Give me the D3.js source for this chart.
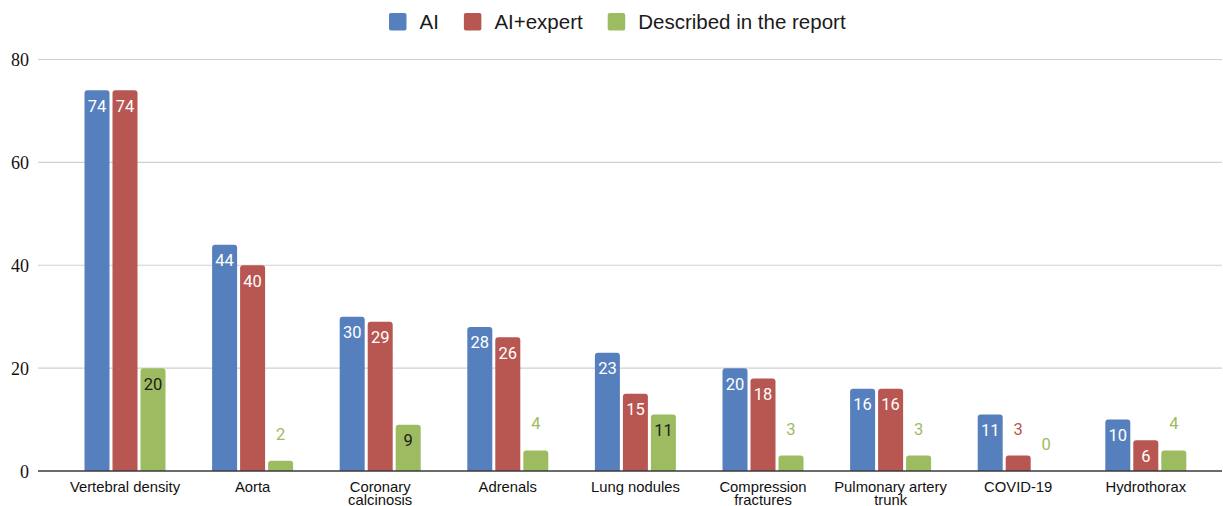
<!DOCTYPE html>
<html>
<head>
<meta charset="utf-8">
<script src="https://cdn.jsdelivr.net/npm/d3@7"></script>
<style>
  html, body { margin: 0; padding: 0; background: #fff; }
  svg { display: block; }
</style>
</head>
<body>
<svg id="chart" width="1223" height="506"></svg>
<script>
// Findings per category
const categories = [
  "Vertebral density", "Aorta", "Coronary calcinosis", "Adrenals", "Lung nodules",
  "Compression fractures", "Pulmonary artery trunk", "COVID-19", "Hydrothorax"
];
// Wrapped label lines for the category axis
const categoryLines = [
  ["Vertebral density"], ["Aorta"], ["Coronary", "calcinosis"], ["Adrenals"], ["Lung nodules"],
  ["Compression", "fractures"], ["Pulmonary artery", "trunk"], ["COVID-19"], ["Hydrothorax"]
];
const seriesNames = ["AI", "AI+expert", "Described in the report"];
const aiValues = [74, 44, 30, 28, 23, 20, 16, 11, 10];
const aiExpertValues = [74, 40, 29, 26, 15, 18, 16, 3, 6];
const reportValues = [20, 2, 9, 4, 11, 3, 3, 0, 4];
const yTicks = [0, 20, 40, 60, 80];

const colors = ["#5680bd", "#b85651", "#9dbb60"];
const insideText = ["#ffffff", "#ffffff", "#1c1c1c"];

const seriesValues = [aiValues, aiExpertValues, reportValues];

const svg = d3.select("#chart");

const x = d3.scaleBand().domain(categories).range([61.2, 1209.6]).paddingInner(0).paddingOuter(0);
const xInner = d3.scaleBand().domain(seriesNames).range([-40.5, 40.5]).paddingInner(0.107);
const y = d3.scaleLinear().domain([0, 80]).range([471, 59.5]);

const gridLeft = 38, gridRight = 1222;

// Gridlines
svg.append("g").selectAll("line").data(yTicks.filter(d => d !== 0)).join("line")
  .attr("x1", gridLeft).attr("x2", gridRight)
  .attr("y1", d => y(d)).attr("y2", d => y(d))
  .attr("stroke", "#d0d0d0").attr("stroke-width", 1.2);

// Y tick labels
svg.append("g").selectAll("text").data(yTicks).join("text")
  .attr("x", 29).attr("y", d => y(d) + 6.5)
  .attr("text-anchor", "end")
  .attr("font-family", "'Liberation Serif', 'Times New Roman', serif")
  .attr("font-size", 18).attr("fill", "#111")
  .text(d => d);

// Bars with rounded top corners
function barPath(x0, w, yTop, yBase, r) {
  const h = yBase - yTop;
  if (h <= 0) return "";
  const rr = Math.min(r, h, w / 2);
  return `M${x0},${yBase}V${yTop + rr}Q${x0},${yTop} ${x0 + rr},${yTop}` +
         `H${x0 + w - rr}Q${x0 + w},${yTop} ${x0 + w},${yTop + rr}V${yBase}Z`;
}

const barData = [];
categories.forEach((c, i) => {
  seriesNames.forEach((s, j) => {
    barData.push({ cat: c, series: s, si: j, value: seriesValues[j][i] });
  });
});

const groups = svg.append("g");
groups.selectAll("path").data(barData).join("path")
  .attr("d", d => {
    const cx = x(d.cat) + x.bandwidth() / 2;
    return barPath(cx + xInner(d.series), xInner.bandwidth(), y(d.value), y(0), 3);
  })
  .attr("fill", d => colors[d.si]);

// Value labels: inside the bar when it is tall enough, above it otherwise
groups.selectAll("text").data(barData).join("text")
  .attr("x", d => x(d.cat) + x.bandwidth() / 2 + xInner(d.series) + xInner.bandwidth() / 2)
  .attr("y", d => {
    const inside = y(0) - y(d.value) > 25;
    return inside ? y(d.value) + 21.5 : y(d.value) - 21;
  })
  .attr("text-anchor", "middle")
  .attr("font-family", "Roboto, 'Noto Sans', sans-serif")
  .attr("font-size", 16.5)
  .attr("fill", d => (y(0) - y(d.value) > 25) ? insideText[d.si] : colors[d.si])
  .text(d => d.value);

// Baseline
svg.append("line")
  .attr("x1", gridLeft).attr("x2", gridRight)
  .attr("y1", y(0)).attr("y2", y(0))
  .attr("stroke", "#3a3a3a").attr("stroke-width", 1.5);

// Category labels
const catG = svg.append("g")
  .attr("font-family", "'Liberation Sans', Arial, sans-serif")
  .attr("font-size", 14.8).attr("fill", "#111").attr("text-anchor", "middle");
categories.forEach((c, i) => {
  const t = catG.append("text").attr("x", x(c) + x.bandwidth() / 2).attr("y", 491.5);
  categoryLines[i].forEach((line, k) => {
    t.append("tspan").attr("x", x(c) + x.bandwidth() / 2).attr("dy", k === 0 ? 0 : 13.4).text(line);
  });
});

// Legend
const legend = svg.append("g");
let lx = 389;
seriesNames.forEach((s, j) => {
  legend.append("rect")
    .attr("x", lx).attr("y", 13).attr("width", 17.5).attr("height", 17.5)
    .attr("rx", 2).attr("fill", colors[j]);
  const t = legend.append("text")
    .attr("x", lx + 30.5).attr("y", 29.3)
    .attr("font-family", "'Liberation Sans', Arial, sans-serif")
    .attr("font-size", 20.5).attr("fill", "#1a1a1a")
    .text(s);
  lx += 30.5 + t.node().getComputedTextLength() + 25;
});
</script>
</body>
</html>
